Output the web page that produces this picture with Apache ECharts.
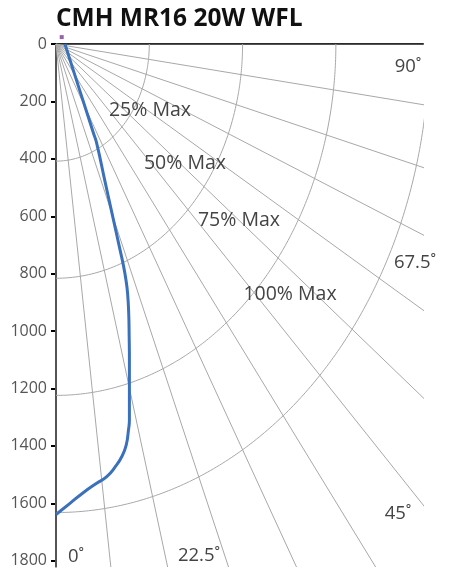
<!DOCTYPE html>
<html>
<head>
<meta charset="utf-8">
<script src="https://cdn.jsdelivr.net/npm/echarts@6/dist/echarts.min.js"></script>
<style>
html,body{margin:0;padding:0;background:#fff;}
#chart{width:454px;height:579px;}
</style>
</head>
<body>
<div id="chart"></div>
<script>
// ---- data ----
const titleText = 'CMH MR16 20W WFL';
// candela curve, horizontal and vertical components (cd)
const curveX = [39, 108, 164, 178, 213, 245, 277, 296, 306, 313, 318, 320, 321, 321, 321, 317, 307, 288, 258, 222, 178, 119, 61, 0];
const curveY = [0, 172, 311, 346, 474, 590, 706, 776, 822, 868, 938, 1020, 1101, 1240, 1310, 1344, 1397, 1437, 1474, 1507, 1530, 1563, 1600, 1639];
const maxCandela = 1632;
const arcFractions = [0.25, 0.5, 0.75, 1.0];
const arcLabels = ['25% Max', '50% Max', '75% Max', '100% Max'];
const radialAngles = [0, 7.5, 15, 22.5, 30, 37.5, 45, 52.5, 60, 67.5, 75, 82.5, 90];
const angleLabels = ['0˚', '22.5˚', '45˚', '67.5˚', '90˚'];
const yTicks = [0, 200, 400, 600, 800, 1000, 1200, 1400, 1600, 1800];
const markerX = [25];
const markerY = [-24];

// ---- chart ----
const FONT = 'Open Sans';
const rad = Math.PI / 180;
const gridColor = '#a8a8a8';

const series = [];
radialAngles.forEach(a => {
  const R = 4000;
  series.push({
    type: 'line', silent: true, symbol: 'none', z: 1,
    lineStyle: { color: gridColor, width: 1 },
    data: [[0, 0], [R * Math.sin(a * rad), R * Math.cos(a * rad)]]
  });
});
arcFractions.forEach(f => {
  const pts = [];
  for (let a = 0; a <= 90; a += 0.5) {
    pts.push([f * maxCandela * Math.sin(a * rad), f * maxCandela * Math.cos(a * rad)]);
  }
  series.push({
    type: 'line', silent: true, symbol: 'none', z: 1,
    lineStyle: { color: gridColor, width: 1 },
    data: pts
  });
});
series.push({
  type: 'line', name: 'curve', symbol: 'none', z: 5, smooth: 0.5,
  lineStyle: { color: '#3b70bb', width: 3 },
  data: curveX.map((x, i) => [x, curveY[i]])
});
series.push({
  type: 'scatter', clip: false, symbol: 'rect', symbolSize: 4, z: 6,
  itemStyle: { color: '#7d3a96' },
  data: markerX.map((x, i) => [x, markerY[i]])
});

const txt = (s, x, y, size, color) => ({
  type: 'text', x: x, y: y, z: 10,
  style: { text: s, fill: color, font: size + 'px "' + FONT + '"', textAlign: 'center', textVerticalAlign: 'middle' }
});
const arcLabelPos = [[150, 110], [185, 163], [239, 220], [290, 294]];
const angleLabelPos = [[76, 557], [199, 556], [398, 514], [415, 263], [408, 67]];
const graphics = [];
arcLabels.forEach((s, i) => graphics.push(txt(s, arcLabelPos[i][0], arcLabelPos[i][1], 19.5, '#444')));
angleLabels.forEach((s, i) => graphics.push(txt(s, angleLabelPos[i][0], angleLabelPos[i][1], 18.5, '#444')));

const chart = echarts.init(document.getElementById('chart'), null, { renderer: 'canvas' });
chart.setOption({
  animation: false,
  backgroundColor: '#fff',
  textStyle: { fontFamily: FONT },
  title: {
    text: titleText, left: 51, top: 2,
    textStyle: { fontFamily: FONT, fontSize: 24.5, fontWeight: 'bold', color: '#111' }
  },
  grid: { left: 56, top: 44, right: 31, bottom: 12.5, containLabel: false },
  xAxis: {
    type: 'value', position: 'top', min: 0, max: 1605,
    axisLine: { show: true, onZero: false, lineStyle: { color: '#000', width: 2 } },
    axisTick: { show: false }, axisLabel: { show: false }, splitLine: { show: false }
  },
  yAxis: {
    type: 'value', inverse: true, min: 0, max: 1820,
    axisLine: { show: true, onZero: false, lineStyle: { color: '#000', width: 2 } },
    axisTick: { show: true, length: 5, customValues: yTicks, lineStyle: { color: '#000', width: 2 } },
    axisLabel: { customValues: yTicks, margin: 9, fontSize: 16, color: '#555', fontFamily: FONT, formatter: v => String(v) },
    splitLine: { show: false }
  },
  graphic: graphics,
  series: series
});
</script>
</body>
</html>
